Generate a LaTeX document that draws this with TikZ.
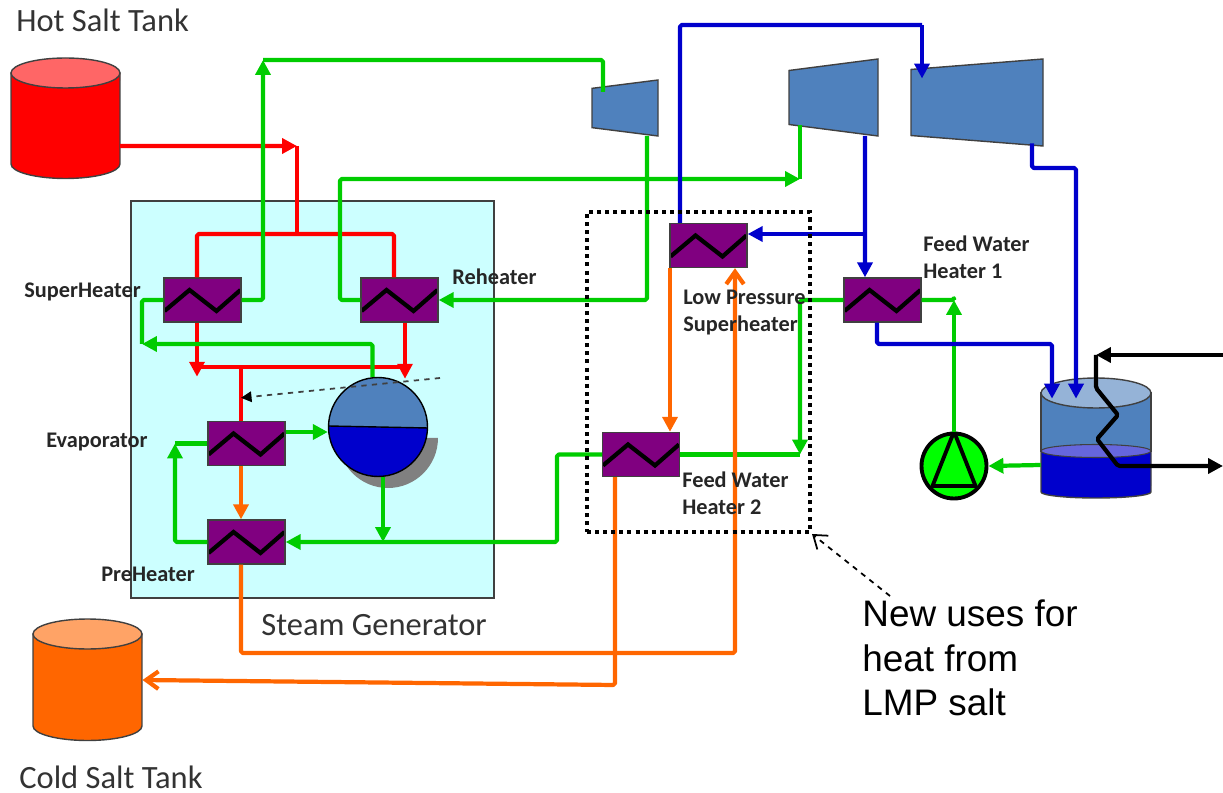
\documentclass[tikz,border=0pt]{standalone}
\usepackage{fontspec}
\setmainfont{Carlito}
\newfontfamily\notefont{Liberation Sans}
\usetikzlibrary{arrows.meta,calc,shapes.geometric}
\definecolor{steamcol}{HTML}{CCFFFF}
\definecolor{heatcol}{HTML}{800080}
\definecolor{steelcol}{HTML}{4F81BD}
\definecolor{lidcol}{HTML}{95B3D7}
\definecolor{watercol}{HTML}{0000CC}
\definecolor{levelcol}{HTML}{6666DD}
\definecolor{greencol}{HTML}{00CC00}
\definecolor{orangecol}{HTML}{FF6600}
\definecolor{edgecol}{HTML}{404040}
\tikzset{
	heater/.style={draw=edgecol, line width=.8pt, fill=heatcol, minimum width=1.54cm, minimum height=.88cm, inner sep=0pt,
		path picture={\draw[black, line width=2.4pt] (path picture bounding box.center) ++(-38,11) -- ++(25,-21) -- ++(27,21) -- ++(24,-21);}},
	turbine/.style n args={3}{draw=edgecol, line width=.8pt, fill=steelcol, trapezium, rotate=90, inner sep=1pt, trapezium stretches=true,
		trapezium left angle=#3, trapezium right angle=#3, minimum width=#1, minimum height=#2},
	tank/.style={minimum width=2.18cm, minimum height=2.42cm, inner sep=0pt},
	tankwall/.style={draw=edgecol, line width=.8pt},
	pipe/.style={line width=2.4pt, line join=round, rounded corners=1pt},
	redpipe/.style={pipe, red},
	greenpipe/.style={pipe, greencol},
	bluepipe/.style={pipe, watercol},
	orangepipe/.style={pipe, orangecol},
	coolpipe/.style={pipe, black},
	pipetip/.style={-{Triangle[length=8.5pt, width=8.5pt]}},
	barbtip/.style={-{Straight Barb[length=7pt, width=10pt]}},
	tag/.style={anchor=west, font=\fontsize{12.7}{15.3}\selectfont\bfseries, text=black!85, align=left, inner sep=0pt},
	tanktag/.style={anchor=west, font=\fontsize{18.5}{20}\selectfont, text=black!80, inner sep=0pt}
}
\begin{document}
\begin{tikzpicture}[x=.02cm, y=-.02cm]
	\useasboundingbox (0,0) rectangle (1223,793);
	\node[draw=edgecol, line width=.8pt, fill=steamcol, minimum width=7.26cm, minimum height=7.94cm] (sgbox) at (312.5,399.5) {};

	\node[tank] (hot) at (65.5,118.5) {};
	\draw[tankwall, fill=red] (11,73) -- (11,164) arc[start angle=180, end angle=360, x radius=1.09cm, y radius=.29cm] -- (120,73) -- cycle;
	\draw[tankwall, fill=red!60!white] (65.5,73) ellipse[x radius=1.09cm, y radius=.3cm];
	\node[tank] (cold) at (87.5,680) {};
	\draw[tankwall, fill=orangecol] (33,634) -- (33,726) arc[start angle=180, end angle=360, x radius=1.09cm, y radius=.29cm] -- (142,634) -- cycle;
	\draw[tankwall, fill=orangecol!60!white] (87.5,634) ellipse[x radius=1.09cm, y radius=.3cm];

	\node[turbine={1.12cm}{1.32cm}{78}] (hpt) at (625,108) {};
	\node[turbine={1.54cm}{1.78cm}{78}] (ipt) at (833.5,97.5) {};
	\node[turbine={1.74cm}{2.64cm}{81}] (lpt) at (977,102.5) {};

	\node[heater] (sh) at (202.5,300) {};
	\node[heater] (rh) at (399.5,300) {};
	\node[heater] (ev) at (246.5,443.5) {};
	\node[heater] (ph) at (246.5,542) {};
	\node[heater] (lps) at (708.5,245.5) {};
	\node[heater] (fwhone) at (882.5,300) {};
	\node[heater] (fwhtwo) at (641,454.5) {};

	\fill[gray] (338,438) arc[start angle=180, end angle=360, radius=1cm] -- cycle;
	\node[circle, draw=black, line width=.8pt, fill=steelcol, minimum size=1.98cm, inner sep=0pt,
		path picture={\fill[watercol] (path picture bounding box.west) ++(0,-1) -- ++(100,2) -- ++(0,60) -- ++(-100,0) -- cycle;
			\draw[black, line width=.8pt] (path picture bounding box.west) ++(0,-1) -- ++(100,2);}] (drum) at (378,427) {};

	\node[minimum width=2.2cm, minimum height=2.4cm, inner sep=0pt] (fwt) at (1096,438) {};
	\draw[tankwall, fill=steelcol] (1041,393) -- (1041,451) -- (1151,451) -- (1151,393) -- cycle;
	\draw[tankwall, fill=watercol] (1041,451) -- (1041,492) arc[start angle=180, end angle=360, x radius=1.1cm, y radius=.12cm] -- (1151,451) -- cycle;
	\draw[tankwall, line width=.6pt, fill=levelcol] (1096,451) ellipse[x radius=1.1cm, y radius=.13cm];
	\draw[tankwall, fill=lidcol] (1096,393) ellipse[x radius=1.1cm, y radius=.3cm];

	\node[circle, draw=black, line width=2.2pt, fill=green, minimum size=1.3cm, inner sep=0pt] (pump) at (954,466) {};
	\draw[black, line width=2.2pt, line join=round] (pump.north) -- ($(pump.center)+(-21.5,20)$) -- ($(pump.center)+(21.5,20)$) -- cycle;

	\coordinate (redsplit) at (297,146);
	\coordinate (redtop) at (297,234);
	\draw[redpipe, pipetip] ($(hot.center)+(54.5,27.5)$) -- (redsplit);
	\draw[redpipe] (redsplit) -- (redtop);
	\draw[redpipe] ($(sh.north)+(-5.5,0)$) |- (redtop) -| ($(rh.north)+(-5.5,0)$);
	\draw[redpipe, pipetip] ($(sh.south)+(-5.5,0)$) -- ++(0,54);
	\draw[redpipe, pipetip, line width=1.9pt] ($(rh.south)+(5.5,0)$) -- ++(0,56);
	\draw[redpipe] ($(sh.south)+(-5.5,44)$) -- ($(rh.south)+(5.5,44)$);
	\draw[redpipe] ($(ev.north)+(-5.5,0)$) -- ++(0,-55);

	\coordinate (shup) at (263,60);
	\coordinate (rhup) at (340,179);
	\coordinate (ipjoin) at (800,179);
	\coordinate (shback) at (142,344);
	\coordinate (evback) at (175,443.5);
	\coordinate (phjoin) at (383,542);
	\coordinate (phfeed) at (557,542);
	\coordinate (fwhdown) at (800,454.5);
	\coordinate (pumpup) at (954,300);
	\draw[greenpipe, pipetip] (sh.east) -| (shup);
	\draw[greenpipe] (shup) -| ($(hpt.center)+(-22,-16)$);
	\draw[greenpipe, pipetip] (rh.west) -| (rhup) -- (ipjoin);
	\draw[greenpipe] (ipjoin) -- ($(ipt.center)+(-33.5,27.5)$);
	\draw[greenpipe, pipetip] ($(hpt.center)+(22,28)$) |- (rh.east);
	\draw[greenpipe] (sh.west) -| (shback);
	\draw[greenpipe, pipetip] ($(drum.north)+(-5.5,0)$) |- (shback);
	\draw[greenpipe, pipetip] ($(ev.east)+(0,-11.5)$) -- ($(drum.west)+(0,5)$);
	\draw[greenpipe, pipetip] (ph.west) -| (evback);
	\draw[greenpipe] (evback) -- (ev.west);
	\draw[greenpipe, pipetip] ($(drum.south)+(5,0)$) -- (phjoin);
	\draw[greenpipe, pipetip] (fwhtwo.west) -| (phfeed) -- (ph.east);
	\draw[greenpipe] (fwhtwo.east) -- (fwhdown);
	\draw[greenpipe, pipetip] (fwhone.west) -| (fwhdown);
	\draw[greenpipe] (fwhone.east) -| (pumpup);
	\draw[greenpipe, pipetip] (pump.north) -- (pumpup);
	\draw[greenpipe, pipetip] ($(fwt.west)+(0,27)$) -- (pump.east);

	\coordinate (bluesplit) at (865,234);
	\coordinate (blueover) at (922,25);
	\coordinate (lptout) at (1076,168);
	\coordinate (bluefeed) at (1052,344);
	\draw[bluepipe, pipetip] ($(ipt.center)+(31.5,38.5)$) -- ($(fwhone.north)+(-17.5,0)$);
	\draw[bluepipe, pipetip] (bluesplit) -- ($(lps.east)+(0,-11.5)$);
	\draw[bluepipe] ($(lps.north)+(-28.5,0)$) |- (blueover);
	\draw[bluepipe, pipetip] (blueover) -- ($(lpt.center)+(-55,-24)$);
	\draw[bluepipe, pipetip] ($(lpt.center)+(55,41)$) |- (lptout) -- ($(fwt.north)+(-20,21)$);
	\draw[bluepipe, pipetip] ($(fwhone.south)+(-5.5,0)$) |- (bluefeed) -- ($(fwt.north)+(-44,21)$);

	\coordinate (coolin) at (1223,355);
	\coordinate (coola) at (1096,355);
	\coordinate (coolb) at (1096,388);
	\coordinate (coolc) at (1118,415);
	\coordinate (coold) at (1097,439);
	\coordinate (coole) at (1118,466);
	\coordinate (coolout) at (1223,466);
	\draw[coolpipe, pipetip] (coolin) -- (coola);
	\draw[coolpipe, pipetip] (coola) -- (coolb) -- (coolc) -- (coold) -- (coole) -- (coolout);

	\coordinate (orangeturn) at (735,653);
	\coordinate (orangelow) at (615,685);
	\draw[orangepipe, pipetip] ($(ev.south)+(-5.5,0)$) -- ($(ph.north)+(-5.5,0)$);
	\draw[orangepipe, barbtip] ($(ph.south)+(-5.5,0)$) |- (orangeturn) -- ($(lps.south)+(26.5,0)$);
	\draw[orangepipe, pipetip] ($(lps.south)+(-38.5,0)$) -- ($(fwhtwo.north)+(29,0)$);
	\draw[orangepipe, barbtip] ($(fwhtwo.south)+(-26,0)$) -- (orangelow) -- ($(cold.center)+(55,0)$);

	\coordinate (drumdash) at (440,378);
	\draw[black!75, line width=1pt, dashed, -{Triangle[length=6pt, width=6pt, black]}] (drumdash) -- ($(ev.north)+(-5.5,-23)$);

	\node[draw=black, line width=2.3pt, dash pattern=on 2.3pt off 2.3pt, minimum width=4.46cm, minimum height=6.4cm] (newbox) at (698.5,372) {};
	\coordinate (noteend) at (890,596);
	\draw[black, line width=1pt, dashed, -{Straight Barb[length=7pt, width=10pt]}] (noteend) -- (newbox.south east);

	\node[tanktag] (hottag) at (16,20) {Hot Salt Tank};
	\node[tanktag] (coldtag) at (19,777) {Cold Salt Tank};
	\node[tanktag] (sgtag) at (261,625) {Steam Generator};
	\node[tag] (shtag) at (24,292) {SuperHeater};
	\node[tag] (rhtag) at (452,277) {Reheater};
	\node[tag] (evtag) at (46,442) {Evaporator};
	\node[tag] (phtag) at (101,574) {PreHeater};
	\node[tag] (lpstag) at (683,312.5) {Low Pressure\\Superheater};
	\node[tag] (fwhonetag) at (923,257.5) {Feed Water\\Heater 1};
	\node[tag] (fwhtwotag) at (682,493.5) {Feed Water\\Heater 2};
	\node[anchor=west, align=left, inner sep=0pt, font=\notefont\fontsize{21}{25.2}\selectfont] (notetag) at (862,658) {New uses for\\heat from\\LMP salt};
\end{tikzpicture}
\end{document}
